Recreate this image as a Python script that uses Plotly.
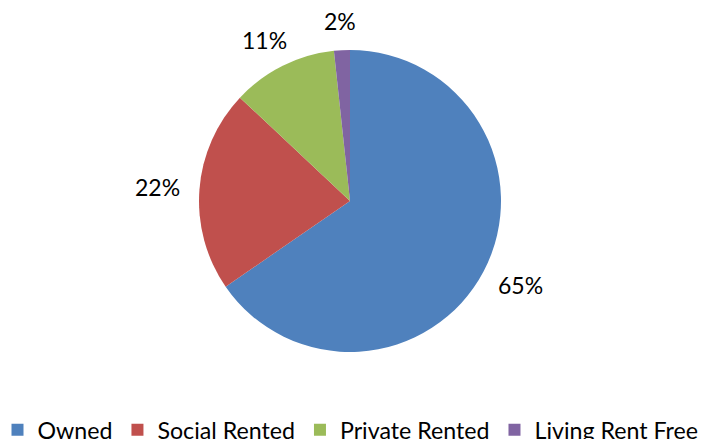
import math
import plotly.graph_objects as go

categories = ["Owned", "Social Rented", "Private Rented", "Living Rent Free"]
values = [65.4, 21.6, 11.3, 1.7]
colors = ["#4F81BD", "#C0504D", "#9BBB59", "#8064A2"]

W, H = 701, 439
MB = 40                      # bottom margin reserved for the legend
PH = H - MB                  # plot-area height
cx, cy, r = 350, 201, 151
FONT = "Lato"

fig = go.Figure(go.Pie(
    labels=categories,
    values=values,
    sort=False,
    direction="clockwise",
    rotation=0,
    marker=dict(colors=colors, line=dict(width=0)),
    textinfo="none",
    domain=dict(x=[(cx - r) / W, (cx + r) / W], y=[1 - (cy + r) / PH, 1 - (cy - r) / PH]),
    hoverinfo="label+percent",
))

# percentage labels placed outside each slice, at the slice mid-angle
total = sum(values)
cum = 0.0
for v in values:
    mid = (cum + v / 2) / total * 2 * math.pi
    cum += v
    pct = f"{round(v / total * 100):.0f}%"
    dx, dy = math.sin(mid), -math.cos(mid)
    px = cx + dx * r + 42 * dx
    py = cy + dy * r + 29 * dy
    fig.add_annotation(x=px / W, y=1 - py / PH, xref="paper", yref="paper",
                       text=pct, showarrow=False, xanchor="center", yanchor="middle",
                       font=dict(family=FONT, size=23, color="#000000"))

fig.update_layout(
    width=W, height=H,
    margin=dict(l=0, r=0, t=0, b=MB),
    paper_bgcolor="white",
    showlegend=True,
    legend=dict(orientation="h", x=0.5, xanchor="center", xref="container",
                y=0.02, yanchor="middle", yref="container",
                font=dict(family=FONT, size=23.2, color="#000000"),
                itemwidth=30),
)

fig.write_html("out.html", config={"displayModeBar": False},
               post_script="document.body.style.margin='0';document.body.style.overflow='hidden';")
